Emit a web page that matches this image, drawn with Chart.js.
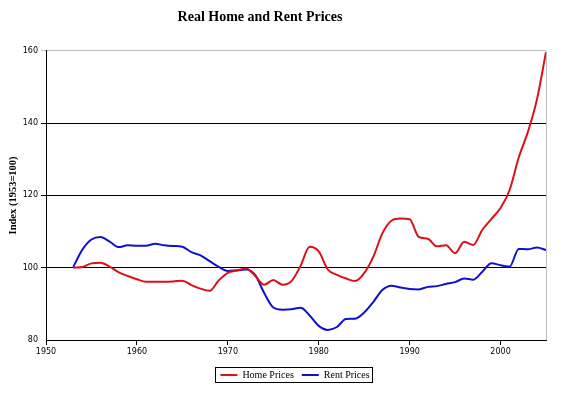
<!DOCTYPE html>
<html>
<head>
<meta charset="utf-8">
<script src="https://cdn.jsdelivr.net/npm/chart.js@4/dist/chart.umd.min.js"></script>
<style>
html,body{margin:0;padding:0;background:#fff;}
#wrap{width:566px;height:394px;}
</style>
</head>
<body>
<div id="wrap"><canvas id="c" width="566" height="394"></canvas></div>
<script>
const years = [1953,1954,1955,1956,1957,1958,1959,1960,1961,1962,1963,1964,1965,1966,1967,1968,1969,1970,1971,1972,1973,1974,1975,1976,1977,1978,1979,1980,1981,1982,1983,1984,1985,1986,1987,1988,1989,1990,1991,1992,1993,1994,1995,1996,1997,1998,1999,2000,2001,2002,2003,2004,2005];
const homePrices = [100,100.2,101.2,101.4,100.3,98.7,97.7,96.8,96.1,96.1,96.1,96.2,96.4,95.2,94.2,93.6,96.5,98.6,99.2,99.8,97.8,95.3,96.6,95.3,96.3,100.5,105.8,104.5,99.5,98.0,97.0,96.3,98.5,103,109.5,113,113.6,113.4,108.5,108,105.9,106.2,104,107.2,106.3,110.5,113.5,116.5,121.5,130.5,137.5,146.5,159.7];
const rentPrices = [100.2,105,107.8,108.5,107.2,105.7,106.2,106.1,106.1,106.6,106.2,106,105.8,104.3,103.4,101.8,100.2,99.1,99.3,99.5,98,93,89,88.4,88.5,88.9,86.8,83.9,82.8,83.6,85.8,85.9,87.6,90.5,93.8,95,94.5,94.1,94,94.7,94.9,95.5,96,97,96.7,98.9,101.2,100.7,100.3,105.2,105.1,105.6,104.9];
const xTicks = [1950,1960,1970,1980,1990,2000];
const yTicks = [80,100,120,140,160];
const seriesNames = ['Home Prices','Rent Prices'];
const titleText = 'Real Home and Rent Prices';
const yTitle = 'Index (1953=100)';

const toPts = arr => years.map((y,i)=>({x:y,y:arr[i]}));

const borderPlugin = {
  id:'borders',
  afterLayout(chart){
    if (chart.titleBlock){ chart.titleBlock.left = 0; chart.titleBlock.right = 520; }
    if (chart.legend){ chart.legend.left = 24; chart.legend.right = 566; }
  },
  afterDraw(chart){
    const ctx = chart.ctx, a = chart.chartArea;
    ctx.save();
    ctx.strokeStyle = '#c0c0c0';
    ctx.lineWidth = 1;
    ctx.beginPath();
    ctx.moveTo(Math.round(a.right)+0.5, a.top);
    ctx.lineTo(Math.round(a.right)+0.5, a.bottom);
    ctx.stroke();
    const lg = chart.legend;
    if (lg && lg.legendHitBoxes && lg.legendHitBoxes.length){
      const hb = lg.legendHitBoxes;
      let minX = Infinity, maxX = -Infinity, minY = Infinity, maxY = -Infinity;
      hb.forEach(h=>{minX=Math.min(minX,h.left);maxX=Math.max(maxX,h.left+h.width);minY=Math.min(minY,h.top);maxY=Math.max(maxY,h.top+h.height);});
      ctx.strokeStyle = '#000';
      ctx.strokeRect(Math.round(minX-5)+0.5, Math.round(minY-3)+0.5, Math.round(maxX-minX+8), Math.round(maxY-minY+5));
    }
    ctx.restore();
  }
};

new Chart(document.getElementById('c'), {
  type:'line',
  data:{
    datasets:[
      {label:seriesNames[0], data:toPts(homePrices), borderColor:'#dc1018', backgroundColor:'#dc1018', borderWidth:2, pointRadius:0, cubicInterpolationMode:'monotone'},
      {label:seriesNames[1], data:toPts(rentPrices), borderColor:'#1010d0', backgroundColor:'#1010d0', borderWidth:2, pointRadius:0, cubicInterpolationMode:'monotone'}
    ]
  },
  options:{
    responsive:false,
    animation:false,
    layout:{padding:{left:0,right:20,top:0,bottom:4}},
    plugins:{
      title:{display:true,text:titleText,color:'#000',font:{family:'Liberation Serif',size:14,weight:'bold'},padding:{top:9,bottom:25}},
      legend:{
        position:'bottom',
        labels:{
          color:'#000',
          font:{family:'Liberation Serif',size:10},
          boxWidth:17, boxHeight:2, padding:8,
          generateLabels(chart){
            return chart.data.datasets.map((d,i)=>({text:d.label,fillStyle:d.borderColor,strokeStyle:d.borderColor,lineWidth:0,hidden:false,datasetIndex:i,fontColor:'#000'}));
          }
        }
      },
      tooltip:{enabled:false}
    },
    scales:{
      x:{
        type:'linear', min:1950, max:2005,
        afterBuildTicks(s){ s.ticks = xTicks.map(v=>({value:v})); },
        afterFit(s){ s.height = 22; },
        grid:{drawOnChartArea:false, drawTicks:true, tickLength:5, color:'#000'},
        border:{color:'#000', width:1},
        ticks:{color:'#000', font:{family:'DejaVu Sans',size:8}, padding:2, maxRotation:0, autoSkip:false, callback:v=>String(v)}
      },
      y:{
        min:80, max:160,
        afterBuildTicks(s){ s.ticks = yTicks.map(v=>({value:v})); },
        afterFit(s){ s.width = 46; },
        grid:{drawTicks:true, tickLength:5, color:(c)=> c.tick && c.tick.value===160 ? '#c0c0c0' : (c.tick && c.tick.value===80 ? 'rgba(0,0,0,0)' : '#000')},
        border:{color:'#000', width:1},
        ticks:{color:'#000', font:{family:'DejaVu Sans',size:8}, padding:3, callback:v=>String(v)},
        title:{display:true, text:yTitle, color:'#000', font:{family:'Liberation Serif',size:10.5,weight:'bold'}, padding:{top:7,bottom:0}}
      }
    }
  },
  plugins:[borderPlugin]
});
</script>
</body>
</html>
